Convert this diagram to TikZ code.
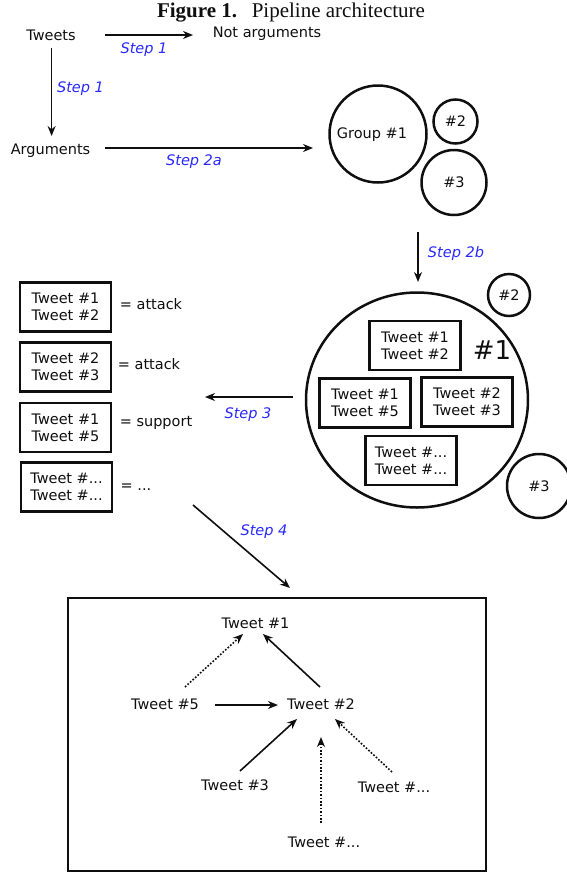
\documentclass[tikz,border=0pt]{standalone}
\usepackage{fontspec}
\setmainfont{DejaVu Sans}
\newfontfamily\titlefont{Liberation Serif}
\usetikzlibrary{arrows.meta,shapes.geometric}
\definecolor{stepblue}{RGB}{40,40,255}
\definecolor{ink}{RGB}{15,15,15}
\begin{document}
\begin{tikzpicture}[x=1pt,y=-1pt,
  font=\fontsize{14.5}{17}\selectfont, text=ink,
  txt/.style={inner sep=0pt},
  steplbl/.style={inner sep=0pt, text=stepblue, font=\fontsize{14.5}{17}\selectfont\itshape},
  circ/.style={circle, draw=ink, line width=2.5pt, inner sep=0pt},
  pairbox/.style={draw=ink, line width=2.2pt, minimum width=91pt, minimum height=49pt, align=left, inner sep=0pt},
  arr/.style={draw=ink, -{Stealth[length=10pt,width=8pt]}, line width=1.6pt},
  dotarr/.style={arr, dash pattern=on 1.7pt off 1.7pt}]
\useasboundingbox (0,0) rectangle (566,873);

% title
\node[txt] (title) at (291,13) {\titlefont\fontsize{21}{24}\selectfont\textbf{Figure 1.}\hspace{0.7em}Pipeline architecture};

% stage 1
\node[txt] (tweets) at (51,35) {Tweets};
\node[txt] (notarg) at (267,34) {Not arguments};
\node[txt] (args) at (50.5,151) {Arguments};
\draw[arr] ([shift={(54,0)}]tweets.center) -- ([shift={(-74,1)}]notarg.center);
\node[steplbl] (s1h) at (144,50) {Step 1};
\draw[arr] ([shift={(0.6,13)}]tweets.center) -- ([shift={(1.1,-15)}]args.center);
\node[steplbl] (s1v) at (80.5,89) {Step 1};

% stage 2a
\node[circ, minimum size=97pt] (group1) at (378,134) {};
\node[txt] (group1txt) at (372,135) {Group \#1};
\node[circ, minimum size=44pt] (g2) at (455.5,121.5) {\#2};
\node[circ, minimum size=65pt] (g3) at (454,182.5) {\#3};
\draw[arr] ([shift={(54.5,-3)}]args.center) -- ([shift={(-65,14)}]group1.center);
\node[steplbl] (s2a) at (194,162) {Step 2a};

% stage 2b
\node[ellipse, draw=ink, line width=2.5pt, minimum width=222pt, minimum height=215pt, inner sep=0pt] (bigc) at (417,400) {};
\node[circ, minimum size=42pt] (c2) at (509,295) {\#2};
\node[circ, minimum size=64pt] (c3) at (539,486) {\#3};
\node[txt, font=\fontsize{26}{30}\selectfont] (h1) at (492,350) {\#1};
\node[pairbox] (ia) at (415,345.5) {Tweet \#1\\Tweet \#2};
\node[pairbox] (ib) at (365,403) {Tweet \#1\\Tweet \#5};
\node[pairbox] (ic) at (467,402) {Tweet \#2\\Tweet \#3};
\node[pairbox] (id) at (411,460.5) {Tweet \#...\\Tweet \#...};
\draw[arr] ([shift={(-36,49.5)}]g3.center) -- ([shift={(1,-118)}]bigc.center);
\node[steplbl] (s2b) at (456,253) {Step 2b};

% stage 3
\node[pairbox] (l1) at (65.5,307) {Tweet \#1\\Tweet \#2};
\node[pairbox] (l2) at (65.5,367) {Tweet \#2\\Tweet \#3};
\node[pairbox] (l3) at (65.5,427.5) {Tweet \#1\\Tweet \#5};
\node[pairbox] (l4) at (66.5,487) {Tweet \#...\\Tweet \#...};
\node[txt] (r1) at (151,304) {= attack};
\node[txt] (r2) at (149,364) {= attack};
\node[txt] (r3) at (156,423) {= support};
\node[txt] (r4) at (136,487) {= ...};
\draw[arr] ([shift={(-124,-3)}]bigc.center) -- ([shift={(49,-26)}]r3.center);
\node[steplbl] (s3) at (248,415) {Step 3};

% stage 4
\node[draw=ink, line width=1.9pt, minimum width=418pt, minimum height=273pt, inner sep=0pt] (frame) at (277,734.5) {};
\draw[arr] ([shift={(57,18)}]r4.center) -- ([shift={(13,-146.5)}]frame.center);
\node[steplbl] (s4) at (264,532) {Step 4};

\node[txt] (t1) at (255.5,623) {Tweet \#1};
\node[txt] (t5) at (165,704) {Tweet \#5};
\node[txt] (t2) at (321,704) {Tweet \#2};
\node[txt] (t3) at (235,785) {Tweet \#3};
\node[txt] (tdr) at (394,787) {Tweet \#...};
\node[txt] (tdb) at (324,842) {Tweet \#...};

\draw[dotarr] ([shift={(20,-17)}]t5.center) -- ([shift={(-12.5,11)}]t1.center);
\draw[arr] ([shift={(-1,-17)}]t2.center) -- ([shift={(7.5,11)}]t1.center);
\draw[arr] ([shift={(50,1)}]t5.center) -- ([shift={(-43,1)}]t2.center);
\draw[arr] ([shift={(5,-14)}]t3.center) -- ([shift={(-24,15)}]t2.center);
\draw[dotarr] ([shift={(-3,-19)}]tdb.center) -- ([shift={(0,33)}]t2.center);
\draw[dotarr] ([shift={(-2,-15)}]tdr.center) -- ([shift={(14,15)}]t2.center);
\end{tikzpicture}
\end{document}
